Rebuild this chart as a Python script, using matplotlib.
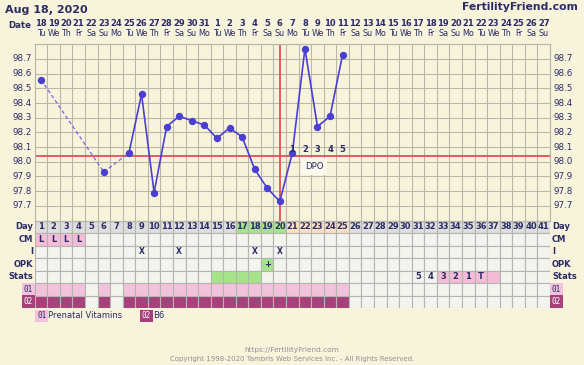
import matplotlib
matplotlib.use("Agg")
import matplotlib.pyplot as plt
import matplotlib.transforms as mtransforms
from matplotlib.patches import Rectangle
import numpy as np

# --- Daten ---
days = list(range(1, 42))
dates = list(range(18, 32)) + list(range(1, 28))
weekdays = ["Tu", "We", "Th", "Fr", "Sa", "Su", "Mo"]
temp_days = [1, 6, 8, 9, 10, 11, 12, 13, 14, 15, 16, 17, 18, 19, 20, 21, 22, 23, 24, 25]
temps = [98.56, 97.93, 98.06, 98.46, 97.79, 98.24, 98.31, 98.28, 98.25, 98.16,
         98.23, 98.17, 97.95, 97.82, 97.73, 98.06, 98.77, 98.24, 98.31, 98.73]
coverline = 98.04
ovulation_day = 20
dpo_days = [21, 22, 23, 24, 25]
ytick_vals = [97.7, 97.8, 97.9, 98.0, 98.1, 98.2, 98.3, 98.4, 98.5, 98.6, 98.7]

cm_days = [1, 2, 3, 4]
cm_vals = ["L", "L", "L", "L"]
i_days = [9, 12, 18, 20]
opk_days = [19]
fertile_days = [17, 18, 19, 20]
luteal_days = [21, 22, 23, 24, 25]
stats_green = [15, 16, 17, 18]
stats_pink = [33, 34, 35, 36, 37]
stats_text = {31: "5", 32: "4", 33: "3", 34: "2", 35: "1", 36: "T"}
supp_days = [1, 2, 3, 4, 6] + list(range(8, 26))
row_names = ["Day", "CM", "I", "OPK", "Stats", "01", "02"]

# Farben
BG = "#f8f4dc"
NAVY = "#2b2b66"
LINE = "#4a3fd2"
GRID = "#bab6aa"
RED = "#e0505a"
CELL = "#f4f4ee"
DAYCELL = "#dedede"
GREEN = "#a6e48c"
PEACH = "#fbe0c2"
PINK = "#f4bcd6"
LPINK = "#f2c2dc"
DARK = "#a8407c"

W, H = 584, 365
fig = plt.figure(figsize=(W / 100, H / 100), dpi=100, facecolor=BG)

# Pixel-Overlay für Kopf/Fuß
bg = fig.add_axes([0, 0, 1, 1], zorder=0)
bg.set_xlim(0, W)
bg.set_ylim(H, 0)
bg.axis("off")

x0, x1 = 34.7, 550.0
ax = fig.add_axes([x0 / W, 1 - 220.5 / H, (x1 - x0) / W, (220.5 - 44.3) / H], zorder=2)
ax.set_facecolor(BG)
ax.set_xlim(0.5, 41.5)
ax.set_ylim(97.6, 98.8)
ax.set_xticks([])
ax.set_yticks([])
for v in np.arange(97.7, 98.8, 0.1):
    ax.axhline(v, color=GRID, lw=0.8, zorder=1)
for d in range(1, 41):
    ax.axvline(d + 0.5, color=GRID, lw=0.8, zorder=1)
for s in ax.spines.values():
    s.set_color(GRID)
    s.set_linewidth(0.9)

# Deckungslinie und Eisprung
ax.axhline(coverline, color=RED, lw=1.3, zorder=2)
ax.axvline(ovulation_day, color=RED, lw=1.3, zorder=2)

# Temperaturkurve: gestrichelt über Lücken, durchgezogen sonst
for a, b, ta, tb in zip(temp_days[:-1], temp_days[1:], temps[:-1], temps[1:]):
    if b - a > 1:
        ax.plot([a, b], [ta, tb], color="#7468de", lw=0.9, ls=(0, (3, 2)), zorder=3)
    else:
        ax.plot([a, b], [ta, tb], color=LINE, lw=1.2, zorder=3)
ax.plot(temp_days, temps, "o", color=LINE, ms=4.3, zorder=4)

# DPO
for i, d in enumerate(dpo_days):
    ax.text(d, coverline + 0.045, str(i + 1), ha="center", va="center",
            fontsize=6, weight="bold", color=NAVY, zorder=5)
ax.text(22.75, 97.97, "DPO", ha="center", va="center", fontsize=6.2, color=NAVY, zorder=5,
        bbox=dict(boxstyle="square,pad=0.45", fc="#fbf8ec", ec="none"))

# y-Beschriftungen links und rechts
ytr = mtransforms.blended_transform_factory(bg.transData, ax.transData)
for v in ytick_vals:
    bg.text(32, v, f"{v:.1f}", transform=ytr, ha="right", va="center", fontsize=6.3, color=NAVY)
    bg.text(553, v, f"{v:.1f}", transform=ytr, ha="left", va="center", fontsize=6.3, color=NAVY)

# Kopfzeilen
xtr = mtransforms.blended_transform_factory(ax.transData, bg.transData)
for d, dt in zip(days, dates):
    bg.text(d, 23.5, str(dt), transform=xtr, ha="center", va="center", fontsize=6,
            weight="bold", color=NAVY)
    bg.text(d, 34, weekdays[(d - 1) % 7], transform=xtr, ha="center", va="center",
            fontsize=5.8, color=NAVY)
bg.text(20, 25, "Date", ha="center", va="center", fontsize=6.2, weight="bold", color=NAVY)
bg.text(5, 10, "Aug 18, 2020", ha="left", va="center", fontsize=8, weight="bold", color=NAVY)
bg.text(578, 7, "FertilityFriend.com", ha="right", va="center", fontsize=7.8, weight="bold", color=NAVY)

# Tabelle
tab = fig.add_axes([x0 / W, 1 - 308 / H, (x1 - x0) / W, (308 - 220.5) / H], zorder=1)
tab.set_xlim(0.5, 41.5)
tab.set_ylim(7, 0)
tab.axis("off")


def cell(d, r, color):
    tab.add_patch(Rectangle((d - 0.5, r), 1, 1, fc=color, ec="#b4b4b0", lw=0.8))


for d in days:
    c = DAYCELL
    if d in fertile_days:
        c = GREEN
    elif d in luteal_days:
        c = PEACH
    cell(d, 0, c)
    for r in range(1, 7):
        c = CELL
        if r == 1 and d in cm_days:
            c = PINK
        elif r == 3 and d in opk_days:
            c = GREEN
        elif r == 4 and d in stats_green:
            c = GREEN
        elif r == 4 and d in stats_pink:
            c = PINK
        elif r == 5 and d in supp_days:
            c = LPINK
        elif r == 6 and d in supp_days:
            c = DARK
        cell(d, r, c)
    tab.text(d, 0.5, str(d), ha="center", va="center", fontsize=6, weight="bold", color=NAVY)

for d, v in zip(cm_days, cm_vals):
    tab.text(d, 1.5, v, ha="center", va="center", fontsize=6, weight="bold", color=NAVY)
for d in i_days:
    tab.text(d, 2.5, "X", ha="center", va="center", fontsize=5.5, weight="bold", color=NAVY)
for d in opk_days:
    tab.text(d, 3.5, "+", ha="center", va="center", fontsize=6, weight="bold", color=NAVY)
for d, v in stats_text.items():
    tab.text(d, 4.5, v, ha="center", va="center", fontsize=6, weight="bold", color=NAVY)

rtr = mtransforms.blended_transform_factory(bg.transData, tab.transData)
for r, name in enumerate(row_names):
    if name in ("01", "02"):
        fc = LPINK if name == "01" else DARK
        tc = NAVY if name == "01" else "white"
        for xx, ha in ((33, "right"), (552, "left")):
            bg.text(xx, r + 0.5, name, transform=rtr, ha=ha, va="center", fontsize=5.5,
                    color=tc, family="DejaVu Sans Mono",
                    bbox=dict(boxstyle="square,pad=0.25", fc=fc, ec="none"))
    else:
        bg.text(33, r + 0.5, name, transform=rtr, ha="right", va="center", fontsize=6,
                weight="bold", color=NAVY)
        bg.text(552, r + 0.5, name, transform=rtr, ha="left", va="center", fontsize=6,
                weight="bold", color=NAVY)

# Legende
bg.text(37, 316, "01", ha="left", va="center", fontsize=5.5, color=NAVY, family="DejaVu Sans Mono",
        bbox=dict(boxstyle="square,pad=0.25", fc=LPINK, ec="none"))
bg.text(48, 316, "Prenatal Vitamins", ha="left", va="center", fontsize=6, color=NAVY)
bg.text(142, 316, "02", ha="left", va="center", fontsize=5.5, color="white", family="DejaVu Sans Mono",
        bbox=dict(boxstyle="square,pad=0.25", fc=DARK, ec="none"))
bg.text(153, 316, "B6", ha="left", va="center", fontsize=6, color=NAVY)

# Fußzeile
bg.text(292, 350, "https://FertilityFriend.com", ha="center", va="center", fontsize=5.3, color="#909090")
bg.text(292, 359, "Copyright 1998-2020 Tambris Web Services Inc. - All Rights Reserved.",
        ha="center", va="center", fontsize=5, color="#909090")

fig.savefig("out.png", dpi=100, facecolor=BG)
